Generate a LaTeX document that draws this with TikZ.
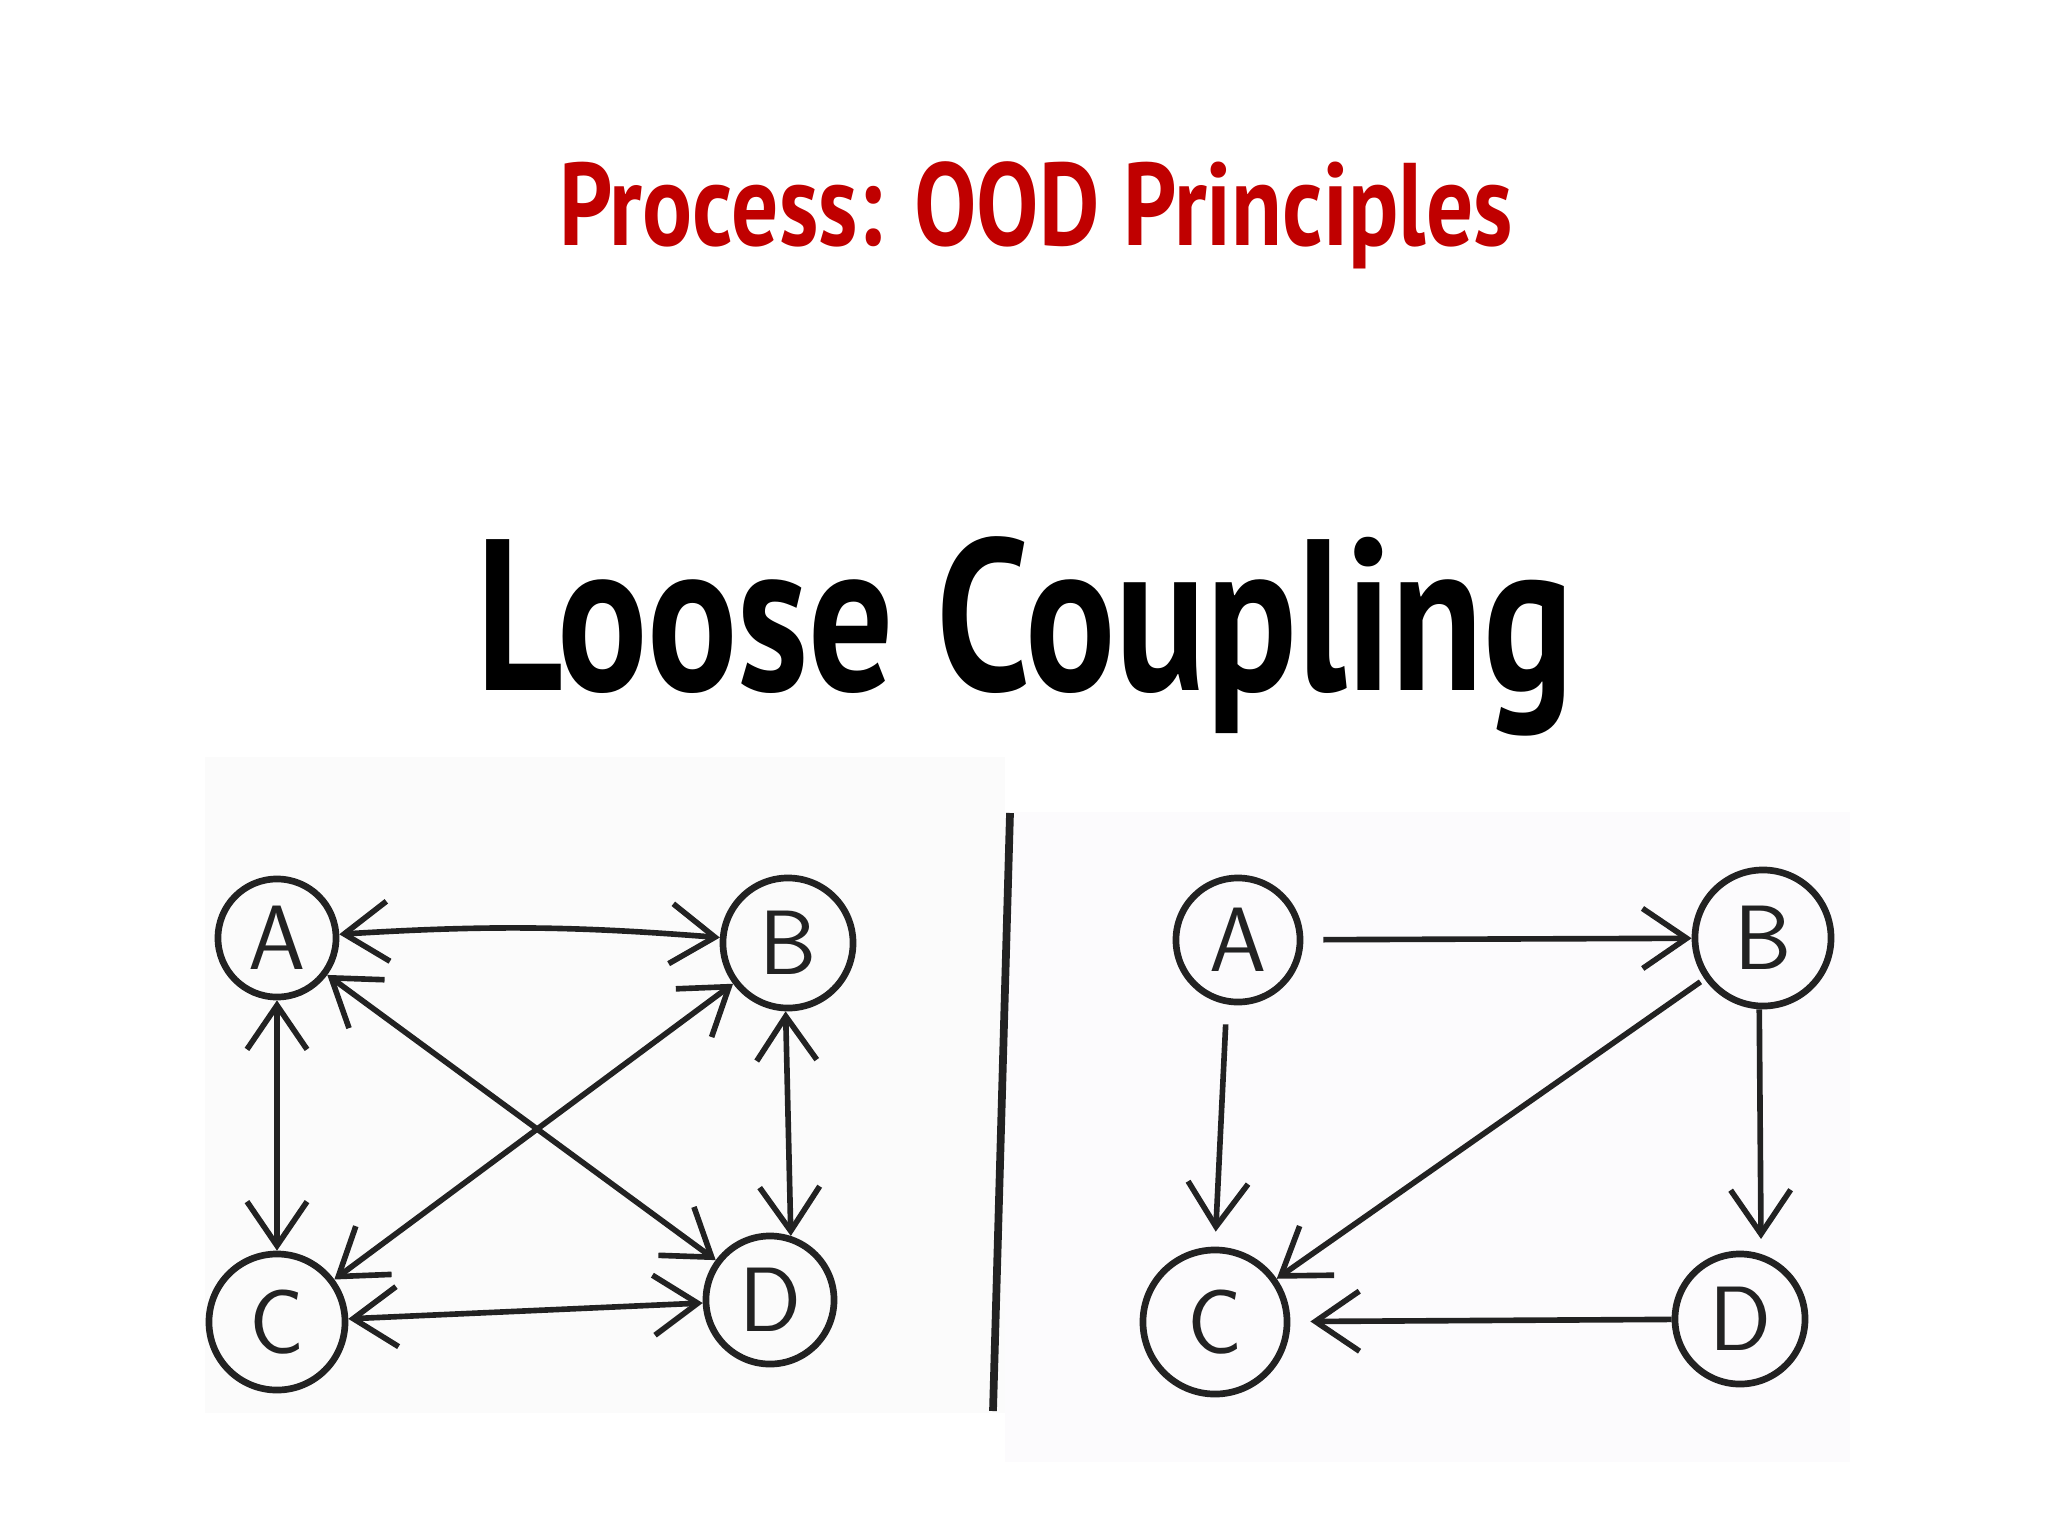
\documentclass[tikz,border=0pt]{standalone}
\usepackage{fontspec}
\usepackage{graphicx}
\newfontfamily\ptsans{PT Sans}
\usetikzlibrary{arrows.meta}
\definecolor{titlered}{RGB}{192,0,0}
\definecolor{ink}{RGB}{34,34,34}
\definecolor{paperL}{RGB}{251,251,251}
\definecolor{paperR}{RGB}{252,251,253}
\begin{document}
\begin{tikzpicture}[x=0.01cm,y=-0.01cm,
  nodecirc/.style={circle,draw=ink,line width=1.9pt,inner sep=0pt,text=ink,
    font=\sffamily\fontsize{26}{26}\selectfont},
  link/.style={draw=ink,line width=1.6pt},
  >={Straight Barb[length=4.4mm,width=6mm]}]
\useasboundingbox (0,0) rectangle (2048,1536);
\fill[white] (0,0) rectangle (2048,1536);
\fill[paperL] (205,757) rectangle (1005,1413);
\fill[paperR] (1005,812) rectangle (1850,1462);

\node[anchor=base, text=titlered, inner sep=0pt] (title) at (1036,245)
  {\resizebox{9.53cm}{\height}{\ptsans\bfseries\fontsize{33.4}{40}\selectfont Process: OOD Principles}};
\node[anchor=base, text=black, inner sep=0pt] (heading) at (1025,690)
  {\resizebox{10.97cm}{\height}{\ptsans\bfseries\fontsize{61.3}{70}\selectfont Loose Coupling}};

% left graph
\node[nodecirc,minimum size=1.18cm] (LA) at (277,938) {A};
\node[nodecirc,minimum size=1.30cm] (LB) at (788,943) {B};
\node[nodecirc,minimum size=1.36cm] (LC) at (277,1322) {C};
\node[nodecirc,minimum size=1.28cm] (LD) at (770,1300) {D};

\draw[link,<->] (LA) to[bend left=4] (LB);
\draw[link,<->] (LA) -- (LC);
\draw[link,<->] (LB.-92) -- (LD.72);
\draw[link,<->] (LC) -- (LD);
\draw[link,<->] (LA) -- (LD);
\draw[link,<->] (LB) -- (LC);

% divider
\coordinate (dtop) at (1010,813);
\coordinate (dbot) at (993,1411);
\draw[ink,line width=2.2pt] (dtop) -- (dbot);

% right graph
\node[nodecirc,minimum size=1.24cm] (RA) at (1238,940) {A};
\node[nodecirc,minimum size=1.36cm] (RB) at (1763,938) {B};
\node[nodecirc,minimum size=1.44cm] (RC) at (1215,1322) {C};
\node[nodecirc,minimum size=1.30cm] (RD) at (1740,1319) {D};

\draw[link,->,shorten <=0.2cm] (RA) -- (RB);
\draw[link,->,shorten <=0.2cm,shorten >=0.15cm] (RA.-100) -- (RC.north);
\draw[link,->,shorten >=0.15cm] (RB.-93) -- (RD.72);
\draw[link,->,shorten <=0.05cm] (RB) -- (RC);
\draw[link,->,shorten >=0.2cm] (RD) -- (RC);
\end{tikzpicture}
\end{document}
